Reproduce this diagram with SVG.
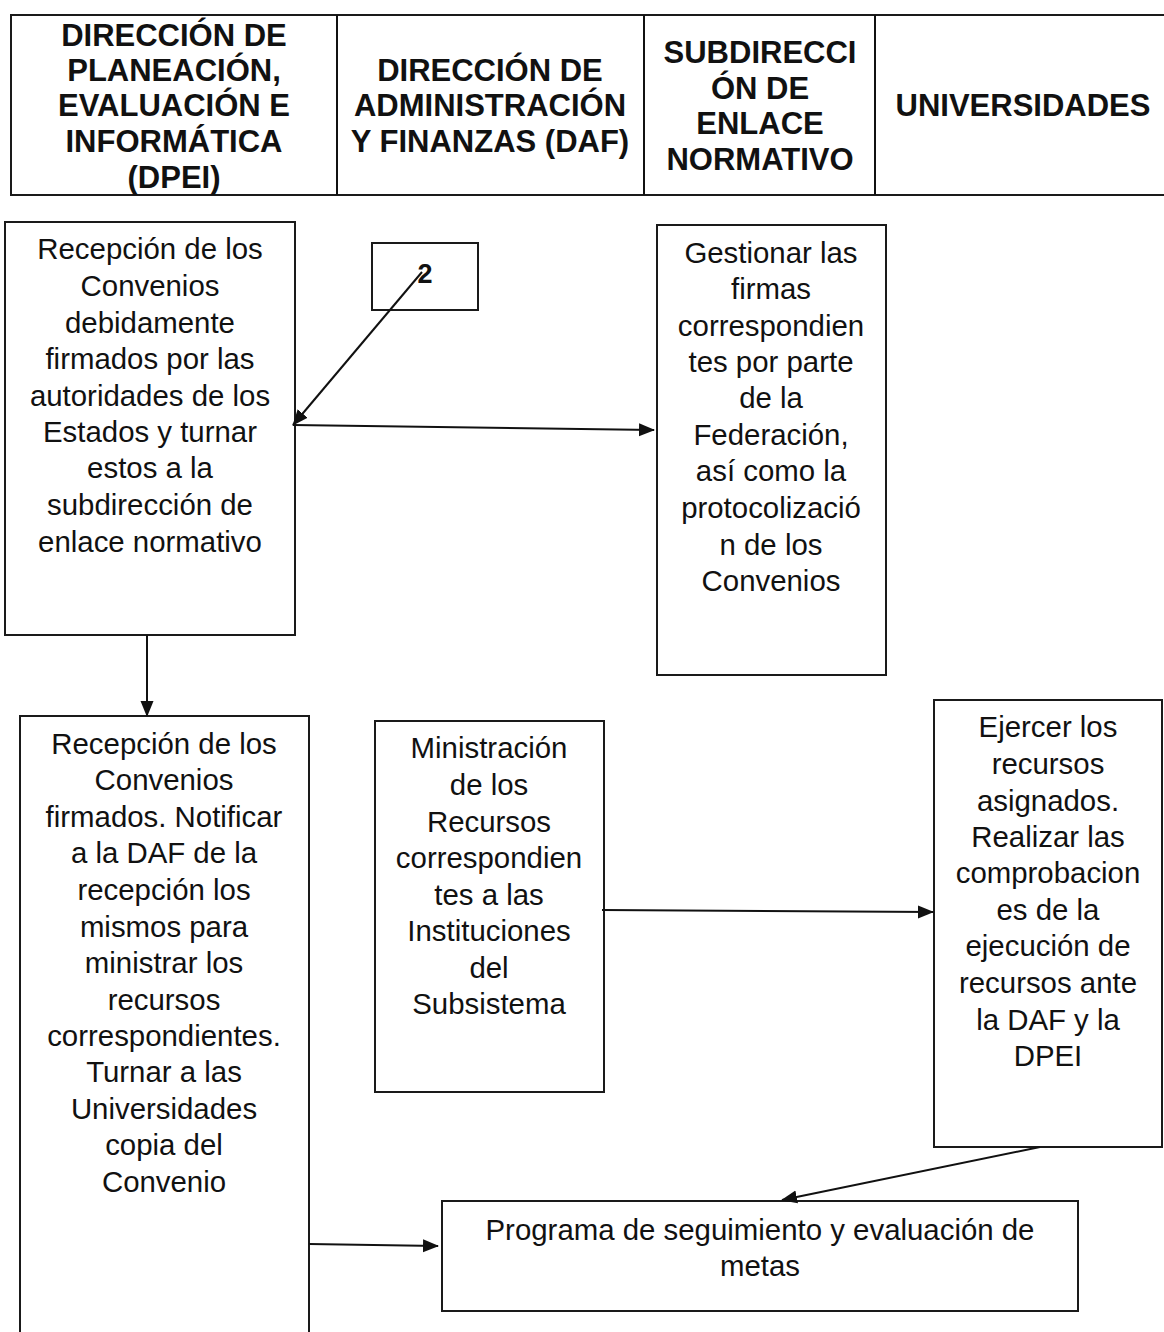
<svg xmlns="http://www.w3.org/2000/svg" width="1164" height="1332" viewBox="0 0 1164 1332">
<style>
.box{fill:#fff;stroke:#1a1a1a;stroke-width:2}
.hd{font-family:"Liberation Sans",Arial,sans-serif;font-weight:bold;font-size:31px;fill:#111;text-anchor:middle}
.tx{font-family:"Liberation Sans",Arial,sans-serif;font-size:29.4px;fill:#111;text-anchor:middle}
.cn{stroke:#111;stroke-width:2;fill:none}
</style>
<defs>
<marker id="ah2" markerWidth="16" markerHeight="16" refX="15" refY="8" orient="auto" markerUnits="userSpaceOnUse">
<path d="M0,1.5 L16,8 L0,14.5 z" fill="#111"/>
</marker>
</defs>
<g id="header">
<rect class="box" x="11" y="15" width="1160" height="180"/>
<line class="cn" x1="337" y1="15" x2="337" y2="195"/>
<line class="cn" x1="644" y1="15" x2="644" y2="195"/>
<line class="cn" x1="875" y1="15" x2="875" y2="195"/>
<text class="hd" x="174" y="46">DIRECCIÓN DE</text>
<text class="hd" x="174" y="81">PLANEACIÓN,</text>
<text class="hd" x="174" y="116">EVALUACIÓN E</text>
<text class="hd" x="174" y="152">INFORMÁTICA</text>
<text class="hd" x="174" y="188">(DPEI)</text>
<text class="hd" x="490" y="81">DIRECCIÓN DE</text>
<text class="hd" x="490" y="116">ADMINISTRACIÓN</text>
<text class="hd" x="490" y="152">Y FINANZAS (DAF)</text>
<text class="hd" x="760" y="63">SUBDIRECCI</text>
<text class="hd" x="760" y="99">ÓN DE</text>
<text class="hd" x="760" y="134">ENLACE</text>
<text class="hd" x="760" y="170">NORMATIVO</text>
<text class="hd" x="1023" y="116">UNIVERSIDADES</text>
</g>
<g id="n1">
<rect class="box" x="5" y="222" width="290" height="413"/>
<text class="tx" x="150" y="259">Recepción de los</text>
<text class="tx" x="150" y="296">Convenios</text>
<text class="tx" x="150" y="333">debidamente</text>
<text class="tx" x="150" y="369">firmados por las</text>
<text class="tx" x="150" y="406">autoridades de los</text>
<text class="tx" x="150" y="442">Estados y turnar</text>
<text class="tx" x="150" y="478">estos a la</text>
<text class="tx" x="150" y="515">subdirección de</text>
<text class="tx" x="150" y="552">enlace normativo</text>
</g>
<g id="n2">
<rect class="box" x="372" y="243" width="106" height="67"/>
<text class="hd" x="425" y="283" style="font-size:27px">2</text>
</g>
<g id="n3">
<rect class="box" x="657" y="225" width="229" height="450"/>
<text class="tx" x="771" y="263">Gestionar las</text>
<text class="tx" x="771" y="299">firmas</text>
<text class="tx" x="771" y="336">correspondien</text>
<text class="tx" x="771" y="372">tes por parte</text>
<text class="tx" x="771" y="408">de la</text>
<text class="tx" x="771" y="445">Federación,</text>
<text class="tx" x="771" y="481">así como la</text>
<text class="tx" x="771" y="518">protocolizació</text>
<text class="tx" x="771" y="555">n de los</text>
<text class="tx" x="771" y="591">Convenios</text>
</g>
<g id="n4">
<path class="box" d="M20,1334 V716 H309 V1334"/>
<text class="tx" x="164" y="754">Recepción de los</text>
<text class="tx" x="164" y="790">Convenios</text>
<text class="tx" x="164" y="827">firmados. Notificar</text>
<text class="tx" x="164" y="863">a la DAF de la</text>
<text class="tx" x="164" y="900">recepción los</text>
<text class="tx" x="164" y="937">mismos para</text>
<text class="tx" x="164" y="973">ministrar los</text>
<text class="tx" x="164" y="1010">recursos</text>
<text class="tx" x="164" y="1046">correspondientes.</text>
<text class="tx" x="164" y="1082">Turnar a las</text>
<text class="tx" x="164" y="1119">Universidades</text>
<text class="tx" x="164" y="1155">copia del</text>
<text class="tx" x="164" y="1192">Convenio</text>
</g>
<g id="n5">
<rect class="box" x="375" y="721" width="229" height="371"/>
<text class="tx" x="489" y="758">Ministración</text>
<text class="tx" x="489" y="795">de los</text>
<text class="tx" x="489" y="832">Recursos</text>
<text class="tx" x="489" y="868">correspondien</text>
<text class="tx" x="489" y="905">tes a las</text>
<text class="tx" x="489" y="941">Instituciones</text>
<text class="tx" x="489" y="978">del</text>
<text class="tx" x="489" y="1014">Subsistema</text>
</g>
<g id="n6">
<rect class="box" x="934" y="700" width="228" height="447"/>
<text class="tx" x="1048" y="737">Ejercer los</text>
<text class="tx" x="1048" y="774">recursos</text>
<text class="tx" x="1048" y="811">asignados.</text>
<text class="tx" x="1048" y="847">Realizar las</text>
<text class="tx" x="1048" y="883">comprobacion</text>
<text class="tx" x="1048" y="920">es de la</text>
<text class="tx" x="1048" y="956">ejecución de</text>
<text class="tx" x="1048" y="993">recursos ante</text>
<text class="tx" x="1048" y="1030">la DAF y la</text>
<text class="tx" x="1048" y="1066">DPEI</text>
</g>
<g id="n7">
<rect class="box" x="442" y="1201" width="636" height="110"/>
<text class="tx" x="760" y="1240">Programa de seguimiento y evaluación de</text>
<text class="tx" x="760" y="1276">metas</text>
</g>
<g id="connectors">
<line class="cn" x1="422" y1="272" x2="293" y2="425" marker-end="url(#ah2)"/>
<line class="cn" x1="293" y1="425" x2="654" y2="430" marker-end="url(#ah2)"/>
<line class="cn" x1="147" y1="635" x2="147" y2="716" marker-end="url(#ah2)"/>
<line class="cn" x1="602" y1="910" x2="933" y2="912" marker-end="url(#ah2)"/>
<line class="cn" x1="1040" y1="1147" x2="782" y2="1200" marker-end="url(#ah2)"/>
<line class="cn" x1="309" y1="1244" x2="438" y2="1246" marker-end="url(#ah2)"/>
</g>
</svg>
